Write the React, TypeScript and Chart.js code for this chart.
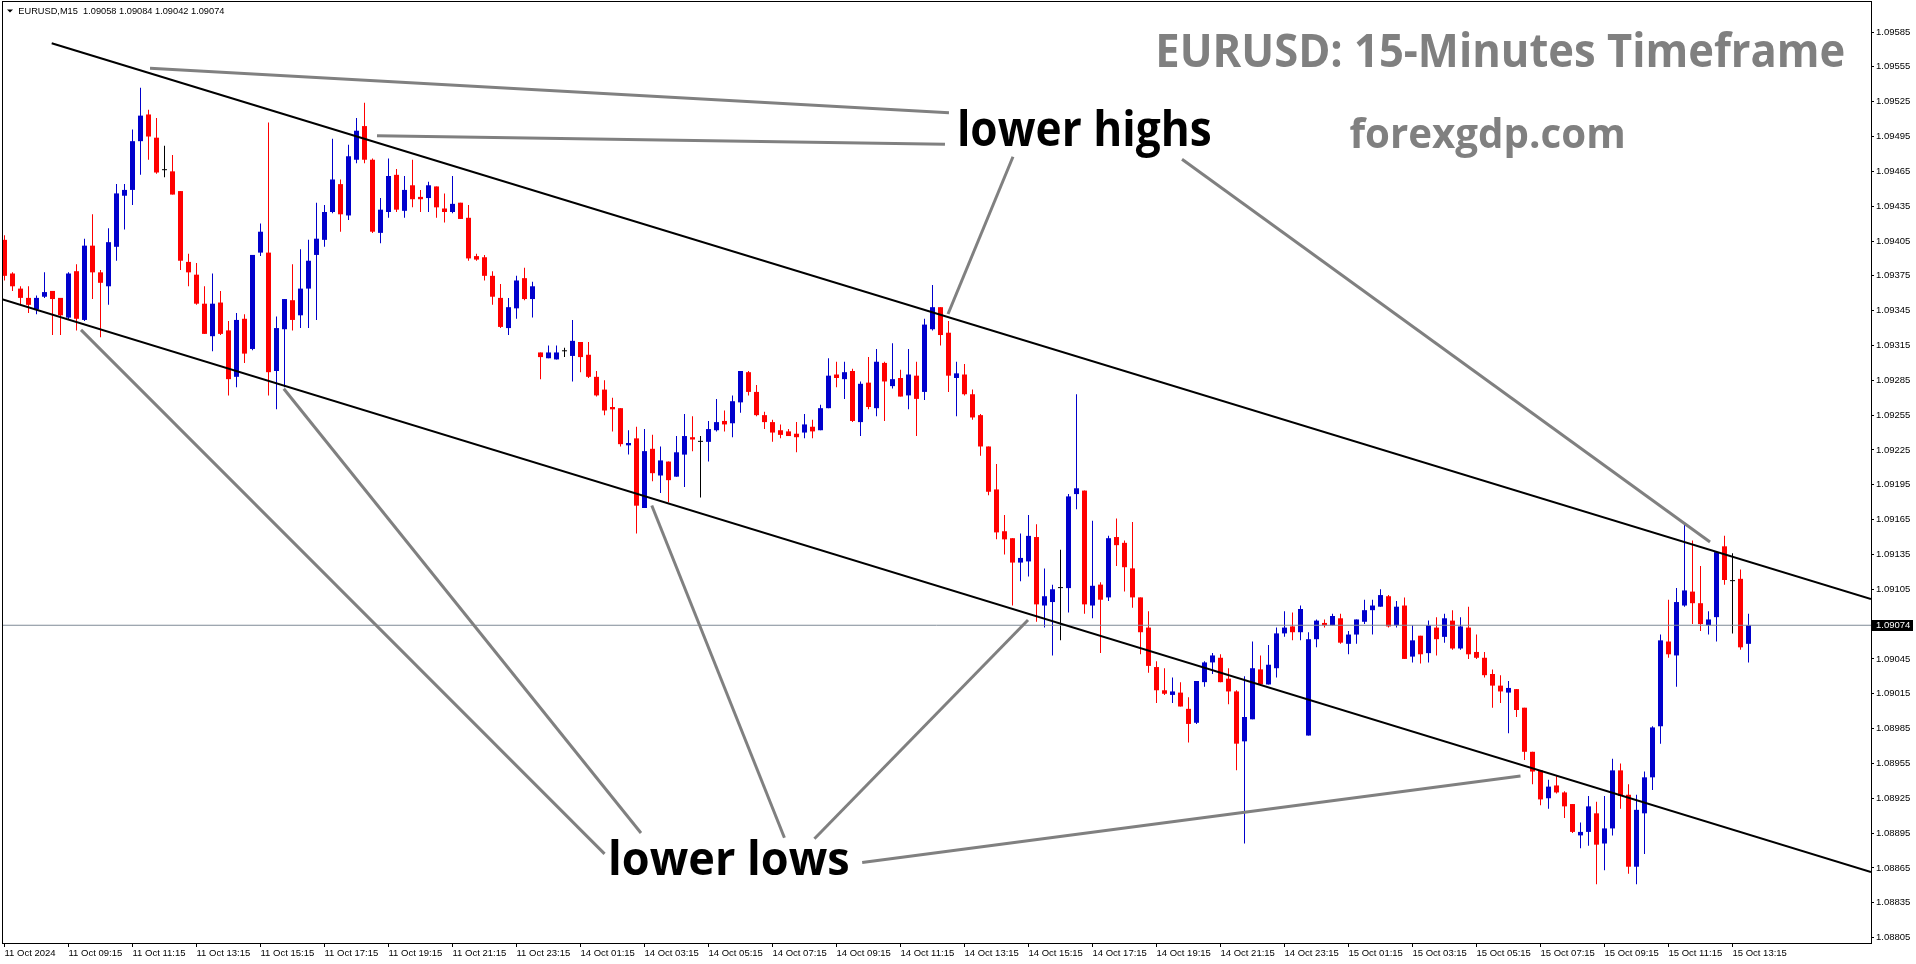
import React, { useEffect, useRef } from 'react';
import { Chart, registerables } from 'chart.js';

Chart.register(...registerables);

// ---------- DATA (EURUSD M15, bar index 0 = 11 Oct 2024 07:15) ----------
const opens = [
  1.09406, 1.09377, 1.09364, 1.09356, 1.09346, 1.09357, 1.09362, 1.09356, 1.09339, 1.09379,
  1.09337, 1.09401, 1.09378, 1.09366, 1.09400, 1.09444, 1.09449, 1.09491, 1.09514, 1.09494,
  1.09466, 1.09465, 1.09448, 1.09387, 1.09376, 1.09351, 1.09323, 1.09352, 1.09328, 1.09288,
  1.09338, 1.09312, 1.09395, 1.09395, 1.09293, 1.09329, 1.09354, 1.09341, 1.09364, 1.09393,
  1.09406, 1.09430, 1.09454, 1.09427, 1.09475, 1.09504, 1.09475, 1.09412, 1.09430, 1.09462,
  1.09431, 1.09453, 1.09443, 1.09442, 1.09452, 1.09433, 1.09430, 1.09438, 1.09425, 1.09392,
  1.09391, 1.09375, 1.09356, 1.09330, 1.09347, 1.09373, 1.09355, 1.09309, 1.09304, 1.09303,
  1.09310, 1.09306, 1.09318, 1.09307, 1.09288, 1.09277, 1.09262, 1.09261, 1.09229, 1.09235,
  1.09175, 1.09226, 1.09203, 1.09215, 1.09202, 1.09221, 1.09236, 1.09232, 1.09232, 1.09242,
  1.09250, 1.09248, 1.09266, 1.09292, 1.09275, 1.09255, 1.09249, 1.09242, 1.09241, 1.09239,
  1.09240, 1.09245, 1.09242, 1.09261, 1.09290, 1.09286, 1.09293, 1.09249, 1.09283, 1.09261,
  1.09300, 1.09280, 1.09287, 1.09272, 1.09289, 1.09275, 1.09329, 1.09348, 1.09326, 1.09287,
  1.09290, 1.09273, 1.09255, 1.09228, 1.09191, 1.09155, 1.09149, 1.09128, 1.09129, 1.09150,
  1.09091, 1.09094, 1.09106, 1.09106, 1.09187, 1.09190, 1.09091, 1.09109, 1.09098, 1.09150,
  1.09145, 1.09123, 1.09098, 1.09072, 1.09038, 1.09018, 1.09014, 1.09016, 1.09002, 1.08990,
  1.09025, 1.09042, 1.09046, 1.09028, 1.09017, 1.08974, 1.08993, 1.09036, 1.09023, 1.09037,
  1.09067, 1.09073, 1.09068, 1.08979, 1.09062, 1.09076, 1.09074, 1.09080, 1.09058, 1.09066,
  1.09077, 1.09087, 1.09090, 1.09099, 1.09074, 1.09091, 1.09047, 1.09065, 1.09050, 1.09072,
  1.09064, 1.09078, 1.09054, 1.09072, 1.09051, 1.09046, 1.09032, 1.09022, 1.09016, 1.09019,
  1.09003, 1.08965, 1.08949, 1.08925, 1.08936, 1.08930, 1.08920, 1.08893, 1.08896, 1.08912,
  1.08886, 1.08899, 1.08949, 1.08928, 1.08866, 1.08912, 1.08943, 1.08987, 1.09060, 1.09048,
  1.09091, 1.09103, 1.09093, 1.09074, 1.09081, 1.09142, 1.09112, 1.09114, 1.09058,
];

const highs = [
  1.09410, 1.09378, 1.09366, 1.09366, 1.09358, 1.09378, 1.09362, 1.09356, 1.09378, 1.09385,
  1.09407, 1.09428, 1.09380, 1.09416, 1.09454, 1.09454, 1.09501, 1.09537, 1.09518, 1.09511,
  1.09487, 1.09479, 1.09448, 1.09394, 1.09386, 1.09366, 1.09377, 1.09362, 1.09336, 1.09343,
  1.09342, 1.09393, 1.09420, 1.09507, 1.09340, 1.09355, 1.09385, 1.09398, 1.09406, 1.09438,
  1.09436, 1.09493, 1.09458, 1.09488, 1.09511, 1.09524, 1.09476, 1.09442, 1.09476, 1.09467,
  1.09461, 1.09475, 1.09449, 1.09456, 1.09452, 1.09446, 1.09461, 1.09438, 1.09436, 1.09394,
  1.09393, 1.09379, 1.09368, 1.09356, 1.09375, 1.09382, 1.09370, 1.09309, 1.09315, 1.09315,
  1.09313, 1.09337, 1.09318, 1.09318, 1.09293, 1.09285, 1.09270, 1.09261, 1.09242, 1.09245,
  1.09243, 1.09238, 1.09228, 1.09215, 1.09237, 1.09256, 1.09254, 1.09237, 1.09250, 1.09269,
  1.09259, 1.09272, 1.09293, 1.09293, 1.09281, 1.09258, 1.09251, 1.09247, 1.09243, 1.09249,
  1.09256, 1.09251, 1.09264, 1.09304, 1.09301, 1.09301, 1.09295, 1.09284, 1.09305, 1.09312,
  1.09301, 1.09317, 1.09294, 1.09312, 1.09301, 1.09338, 1.09367, 1.09348, 1.09336, 1.09301,
  1.09299, 1.09277, 1.09256, 1.09228, 1.09213, 1.09169, 1.09149, 1.09153, 1.09169, 1.09161,
  1.09123, 1.09109, 1.09139, 1.09187, 1.09273, 1.09190, 1.09164, 1.09111, 1.09151, 1.09166,
  1.09147, 1.09163, 1.09098, 1.09086, 1.09043, 1.09037, 1.09029, 1.09025, 1.09012, 1.09026,
  1.09043, 1.09050, 1.09049, 1.09037, 1.09018, 1.09030, 1.09060, 1.09048, 1.09057, 1.09072,
  1.09086, 1.09085, 1.09091, 1.09068, 1.09079, 1.09079, 1.09084, 1.09084, 1.09069, 1.09079,
  1.09096, 1.09096, 1.09105, 1.09100, 1.09095, 1.09098, 1.09074, 1.09065, 1.09078, 1.09081,
  1.09084, 1.09087, 1.09081, 1.09090, 1.09066, 1.09051, 1.09036, 1.09031, 1.09026, 1.09019,
  1.09003, 1.08965, 1.08949, 1.08941, 1.08944, 1.08931, 1.08920, 1.08904, 1.08927, 1.08922,
  1.08927, 1.08959, 1.08955, 1.08937, 1.08928, 1.08948, 1.08987, 1.09066, 1.09096, 1.09106,
  1.09161, 1.09147, 1.09125, 1.09086, 1.09138, 1.09151, 1.09136, 1.09122, 1.09084,
];

const lows = [
  1.09371, 1.09362, 1.09350, 1.09343, 1.09342, 1.09356, 1.09324, 1.09324, 1.09337, 1.09328,
  1.09336, 1.09355, 1.09322, 1.09350, 1.09388, 1.09415, 1.09436, 1.09462, 1.09475, 1.09463,
  1.09460, 1.09445, 1.09380, 1.09366, 1.09350, 1.09325, 1.09310, 1.09324, 1.09272, 1.09279,
  1.09300, 1.09311, 1.09392, 1.09272, 1.09260, 1.09279, 1.09328, 1.09330, 1.09330, 1.09337,
  1.09400, 1.09429, 1.09413, 1.09423, 1.09472, 1.09472, 1.09412, 1.09403, 1.09425, 1.09430,
  1.09425, 1.09434, 1.09430, 1.09430, 1.09425, 1.09421, 1.09429, 1.09424, 1.09388, 1.09388,
  1.09371, 1.09350, 1.09330, 1.09324, 1.09338, 1.09354, 1.09339, 1.09286, 1.09304, 1.09303,
  1.09305, 1.09284, 1.09292, 1.09287, 1.09271, 1.09255, 1.09241, 1.09228, 1.09221, 1.09153,
  1.09175, 1.09198, 1.09188, 1.09180, 1.09202, 1.09193, 1.09224, 1.09184, 1.09215, 1.09241,
  1.09241, 1.09236, 1.09257, 1.09272, 1.09254, 1.09243, 1.09232, 1.09235, 1.09237, 1.09223,
  1.09235, 1.09235, 1.09242, 1.09261, 1.09279, 1.09269, 1.09249, 1.09237, 1.09260, 1.09254,
  1.09250, 1.09278, 1.09271, 1.09260, 1.09237, 1.09268, 1.09328, 1.09315, 1.09275, 1.09254,
  1.09272, 1.09251, 1.09220, 1.09186, 1.09148, 1.09135, 1.09091, 1.09112, 1.09116, 1.09077,
  1.09072, 1.09048, 1.09061, 1.09085, 1.09174, 1.09084, 1.09080, 1.09050, 1.09095, 1.09125,
  1.09103, 1.09089, 1.09049, 1.09033, 1.09007, 1.09014, 1.09007, 1.09004, 1.08973, 1.08989,
  1.09021, 1.09032, 1.09025, 1.09006, 1.08949, 1.08886, 1.08993, 1.09023, 1.09023, 1.09029,
  1.09064, 1.09061, 1.09061, 1.08979, 1.09055, 1.09072, 1.09074, 1.09058, 1.09049, 1.09058,
  1.09075, 1.09066, 1.09090, 1.09072, 1.09072, 1.09045, 1.09042, 1.09041, 1.09042, 1.09048,
  1.09059, 1.09053, 1.09053, 1.09045, 1.09045, 1.09029, 1.09003, 1.09007, 1.08981, 1.08995,
  1.08958, 1.08937, 1.08919, 1.08916, 1.08929, 1.08908, 1.08895, 1.08882, 1.08884, 1.08851,
  1.08863, 1.08893, 1.08916, 1.08860, 1.08851, 1.08877, 1.08932, 1.08972, 1.09046, 1.09021,
  1.09090, 1.09075, 1.09069, 1.09066, 1.09060, 1.09109, 1.09067, 1.09053, 1.09042,
];

const closes = [
  1.09375, 1.09366, 1.09356, 1.09350, 1.09356, 1.09361, 1.09355, 1.09341, 1.09377, 1.09338,
  1.09401, 1.09378, 1.09369, 1.09404, 1.09446, 1.09449, 1.09491, 1.09513, 1.09495, 1.09464,
  1.09466, 1.09445, 1.09388, 1.09378, 1.09351, 1.09325, 1.09351, 1.09325, 1.09286, 1.09337,
  1.09308, 1.09393, 1.09413, 1.09292, 1.09330, 1.09355, 1.09337, 1.09364, 1.09388, 1.09407,
  1.09430, 1.09458, 1.09428, 1.09478, 1.09500, 1.09475, 1.09413, 1.09432, 1.09461, 1.09432,
  1.09449, 1.09441, 1.09441, 1.09453, 1.09434, 1.09430, 1.09437, 1.09424, 1.09390, 1.09389,
  1.09375, 1.09357, 1.09331, 1.09348, 1.09371, 1.09355, 1.09366, 1.09305, 1.09309, 1.09309,
  1.09310, 1.09319, 1.09305, 1.09288, 1.09272, 1.09259, 1.09260, 1.09230, 1.09231, 1.09177,
  1.09224, 1.09205, 1.09216, 1.09199, 1.09223, 1.09237, 1.09234, 1.09232, 1.09243, 1.09249,
  1.09247, 1.09267, 1.09293, 1.09275, 1.09255, 1.09249, 1.09240, 1.09238, 1.09237, 1.09236,
  1.09247, 1.09241, 1.09261, 1.09289, 1.09287, 1.09292, 1.09250, 1.09282, 1.09262, 1.09301,
  1.09284, 1.09286, 1.09271, 1.09290, 1.09269, 1.09333, 1.09348, 1.09324, 1.09289, 1.09291,
  1.09273, 1.09253, 1.09228, 1.09189, 1.09154, 1.09148, 1.09128, 1.09132, 1.09151, 1.09092,
  1.09099, 1.09105, 1.09106, 1.09185, 1.09192, 1.09092, 1.09108, 1.09096, 1.09149, 1.09143,
  1.09124, 1.09098, 1.09068, 1.09039, 1.09018, 1.09015, 1.09017, 1.09004, 1.08989, 1.09026,
  1.09042, 1.09048, 1.09025, 1.09017, 1.08972, 1.08995, 1.09037, 1.09023, 1.09040, 1.09067,
  1.09072, 1.09068, 1.09088, 1.09062, 1.09078, 1.09074, 1.09082, 1.09059, 1.09066, 1.09079,
  1.09087, 1.09091, 1.09100, 1.09073, 1.09090, 1.09045, 1.09061, 1.09049, 1.09074, 1.09062,
  1.09080, 1.09054, 1.09073, 1.09049, 1.09046, 1.09031, 1.09022, 1.09017, 1.09020, 1.09001,
  1.08965, 1.08948, 1.08924, 1.08935, 1.08930, 1.08918, 1.08896, 1.08896, 1.08918, 1.08885,
  1.08899, 1.08949, 1.08927, 1.08866, 1.08915, 1.08943, 1.08986, 1.09061, 1.09049, 1.09094,
  1.09104, 1.09093, 1.09075, 1.09079, 1.09137, 1.09113, 1.09112, 1.09055, 1.09074,
];

const xTickBars = [0, 8, 16, 24, 32, 40, 48, 56, 64, 72, 80, 88, 96, 104, 112, 120, 128, 136, 144, 152, 160, 168, 176, 184, 192, 200, 208, 216];
const xTickLabels = [
  '11 Oct 2024', '11 Oct 09:15', '11 Oct 11:15', '11 Oct 13:15', '11 Oct 15:15', '11 Oct 17:15', '11 Oct 19:15',
  '11 Oct 21:15', '11 Oct 23:15', '14 Oct 01:15', '14 Oct 03:15', '14 Oct 05:15', '14 Oct 07:15', '14 Oct 09:15',
  '14 Oct 11:15', '14 Oct 13:15', '14 Oct 15:15', '14 Oct 17:15', '14 Oct 19:15', '14 Oct 21:15', '14 Oct 23:15',
  '15 Oct 01:15', '15 Oct 03:15', '15 Oct 05:15', '15 Oct 07:15', '15 Oct 09:15', '15 Oct 11:15', '15 Oct 13:15',
];
const yTickValues = [
  1.09585, 1.09555, 1.09525, 1.09495, 1.09465, 1.09435, 1.09405, 1.09375, 1.09345, 1.09315, 1.09285, 1.09255, 1.09225,
  1.09195, 1.09165, 1.09135, 1.09105, 1.09045, 1.09015, 1.08985, 1.08955, 1.08925, 1.08895, 1.08865, 1.08835, 1.08805,
];
const bidPrice = 1.09074;
const headerText = 'EURUSD,M15  1.09058 1.09084 1.09042 1.09074';

// trend channel (bar index, price)
const upperChannel = [{ x: 5.9, y: 1.095753 }, { x: 233.31, y: 1.090966 }];
const lowerChannel = [{ x: -0.31, y: 1.093548 }, { x: 233.31, y: 1.088615 }];
// grey pointer lines
const highPointers = [
  [{ x: 18.19, y: 1.095538 }, { x: 118.06, y: 1.095155 }],
  [{ x: 46.56, y: 1.094957 }, { x: 117.56, y: 1.094883 }],
  [{ x: 126.06, y: 1.094776 }, { x: 117.94, y: 1.093421 }],
  [{ x: 147.19, y: 1.094754 }, { x: 213.19, y: 1.091457 }],
];
const lowPointers = [
  [{ x: 75.01, y: 1.088771 }, { x: 9.56, y: 1.093284 }],
  [{ x: 79.56, y: 1.088951 }, { x: 34.91, y: 1.092777 }],
  [{ x: 97.49, y: 1.08891 }, { x: 80.91, y: 1.091772 }],
  [{ x: 101.24, y: 1.088901 }, { x: 127.94, y: 1.090785 }],
  [{ x: 107.21, y: 1.088696 }, { x: 189.5, y: 1.089442 }],
];

// ---------- LAYOUT / STYLE ----------
const W = 1916;
const H = 964;
const X_MIN = -0.3125;
const X_MAX = 233.3125;
const Y_MIN = 1.088003;
const Y_MAX = 1.0961174;
const BULL = '#0000cc';
const BEAR = '#ff0000';
const DOJI = '#000000';
const GREY = '#808080';
const AXIS_FONT = '"Liberation Sans", Arial, sans-serif';
const NOTE_FONT = '"Open Sans", "Noto Sans", sans-serif';

function fitText(
  ctx: CanvasRenderingContext2D, text: string, x: number, baseline: number,
  width: number, ascent: number, ref: string, color: string, weight: string, family: string,
) {
  ctx.save();
  ctx.font = `${weight} 100px ${family}`;
  const a = ctx.measureText(ref).actualBoundingBoxAscent || 72;
  const size = (100 * ascent) / a;
  ctx.font = `${weight} ${size}px ${family}`;
  const m = ctx.measureText(text);
  const inkW = m.actualBoundingBoxRight + m.actualBoundingBoxLeft;
  const sx = width / inkW;
  ctx.translate(x, baseline);
  ctx.scale(sx, 1);
  ctx.fillStyle = color;
  ctx.textAlign = 'left';
  ctx.textBaseline = 'alphabetic';
  ctx.fillText(text, m.actualBoundingBoxLeft, 0);
  ctx.restore();
}

const decorPlugin = {
  id: 'mt4Decor',
  afterDatasetsDraw(chart: any) {
    const ctx: CanvasRenderingContext2D = chart.ctx;
    const { left, right, top, bottom } = chart.chartArea;
    const yS = chart.scales.y;
    ctx.save();
    fitText(ctx, 'EURUSD: 15-Minutes Timeframe', 1159, 66.7, 685, 33.4, 'E', GREY, 'bold', NOTE_FONT);
    fitText(ctx, 'forexgdp.com', 1349.5, 148.3, 274, 31.6, 'd', GREY, 'bold', NOTE_FONT);
    fitText(ctx, 'lower highs', 959.6, 146, 251, 37.5, 'l', '#000', 'bold', NOTE_FONT);
    fitText(ctx, 'lower lows', 611, 875, 237.5, 36, 'l', '#000', 'bold', NOTE_FONT);

    // header
    ctx.fillStyle = '#000';
    ctx.beginPath();
    ctx.moveTo(7, 9.5);
    ctx.lineTo(13, 9.5);
    ctx.lineTo(10, 12.5);
    ctx.closePath();
    ctx.fill();
    fitText(ctx, headerText, 18.3, 14, 206.7, 6.7, 'E', '#000', 'normal', AXIS_FONT);

    // frame
    ctx.strokeStyle = '#000';
    ctx.lineWidth = 1;
    ctx.strokeRect(left + 0.5, top + 0.5, right - left, bottom - top);

    // current price box
    const by = yS.getPixelForValue(bidPrice);
    ctx.fillStyle = '#000';
    ctx.fillRect(right + 1, Math.round(by) - 5, 41, 11);
    ctx.fillStyle = '#fff';
    ctx.font = `9.5px ${AXIS_FONT}`;
    ctx.textAlign = 'left';
    ctx.textBaseline = 'middle';
    ctx.fillText(bidPrice.toFixed(5), right + 5, by + 0.5);
    ctx.restore();
  },
};

export default function App() {
  const ref = useRef<HTMLCanvasElement>(null);

  useEffect(() => {
    document.body.style.margin = '0';
    const canvas = ref.current;
    if (!canvas) return;

    const colors = opens.map((o, i) => (closes[i] > o ? BULL : closes[i] < o ? BEAR : DOJI));
    const wickData = highs.map((h, i) => ({ x: i, y: [lows[i], h] }));
    const bodyData = opens.map((o, i) => ({ x: i, y: [o, closes[i]] }));

    const lineDs = (pts: any[], color: string, width: number, order: number) => ({
      type: 'line' as const,
      data: pts,
      borderColor: color,
      borderWidth: width,
      pointRadius: 0,
      fill: false,
      tension: 0,
      order,
    });

    const datasets: any[] = [
      lineDs(upperChannel, '#000', 2, 0),
      lineDs(lowerChannel, '#000', 2, 0),
      ...highPointers.map((p) => lineDs(p, GREY, 3, 0)),
      ...lowPointers.map((p) => lineDs(p, GREY, 3, 0)),
      lineDs([{ x: X_MIN, y: bidPrice }, { x: X_MAX, y: bidPrice }], '#7f8a96', 1, 1),
      {
        type: 'bar',
        data: wickData,
        backgroundColor: colors,
        barThickness: 1,
        grouped: false,
        borderWidth: 0,
        inflateAmount: 0,
        order: 3,
      },
      {
        type: 'bar',
        data: bodyData,
        backgroundColor: colors,
        barThickness: 5,
        grouped: false,
        borderWidth: 0,
        inflateAmount: 0,
        minBarLength: 1,
        order: 2,
      },
    ];

    const tickFont = { family: AXIS_FONT, size: 9.5 };

    const chart = new Chart(canvas, {
      type: 'bar',
      data: { datasets },
      options: {
        responsive: false,
        animation: false,
        devicePixelRatio: 1,
        events: [],
        layout: { padding: { left: 2, top: 1, right: 0, bottom: 0 } },
        plugins: { legend: { display: false }, tooltip: { enabled: false }, title: { display: false } },
        scales: {
          x: {
            type: 'linear',
            position: 'bottom',
            min: X_MIN,
            max: X_MAX,
            offset: false,
            grid: { display: true, drawOnChartArea: false, drawTicks: true, tickLength: 4, color: '#000', tickColor: '#000', offset: false, lineWidth: 1 },
            border: { display: false },
            ticks: {
              autoSkip: false,
              maxRotation: 0,
              minRotation: 0,
              align: 'start',
              padding: 1,
              color: '#000',
              font: tickFont,
              callback: (v: any) => {
                const k = xTickBars.indexOf(Number(v));
                return k >= 0 ? xTickLabels[k] : '';
              },
            },
            afterBuildTicks: (s: any) => {
              s.ticks = xTickBars.map((v) => ({ value: v }));
            },
            afterFit: (s: any) => {
              s.height = H - 943;
              s.paddingLeft = 0;
              s.paddingRight = 0;
            },
          },
          y: {
            type: 'linear',
            position: 'right',
            min: Y_MIN,
            max: Y_MAX,
            beginAtZero: false,
            grid: { display: true, drawOnChartArea: false, drawTicks: true, tickLength: 3, color: '#000', tickColor: '#000', lineWidth: 1 },
            border: { display: false },
            ticks: {
              autoSkip: false,
              padding: 2,
              color: '#000',
              font: tickFont,
              callback: (v: any) => Number(v).toFixed(5),
            },
            afterBuildTicks: (s: any) => {
              s.ticks = yTickValues.map((v) => ({ value: v }));
            },
            afterFit: (s: any) => {
              s.width = W - 1871;
              s.paddingTop = 0;
              s.paddingBottom = 0;
            },
          },
        },
      } as any,
      plugins: [decorPlugin],
    });

    return () => chart.destroy();
  }, []);

  return (
    <div style={{ position: 'absolute', left: 0, top: 0, width: W, height: H, background: '#fff' }}>
      <canvas ref={ref} width={W} height={H} style={{ display: 'block', width: W, height: H }} />
    </div>
  );
}
